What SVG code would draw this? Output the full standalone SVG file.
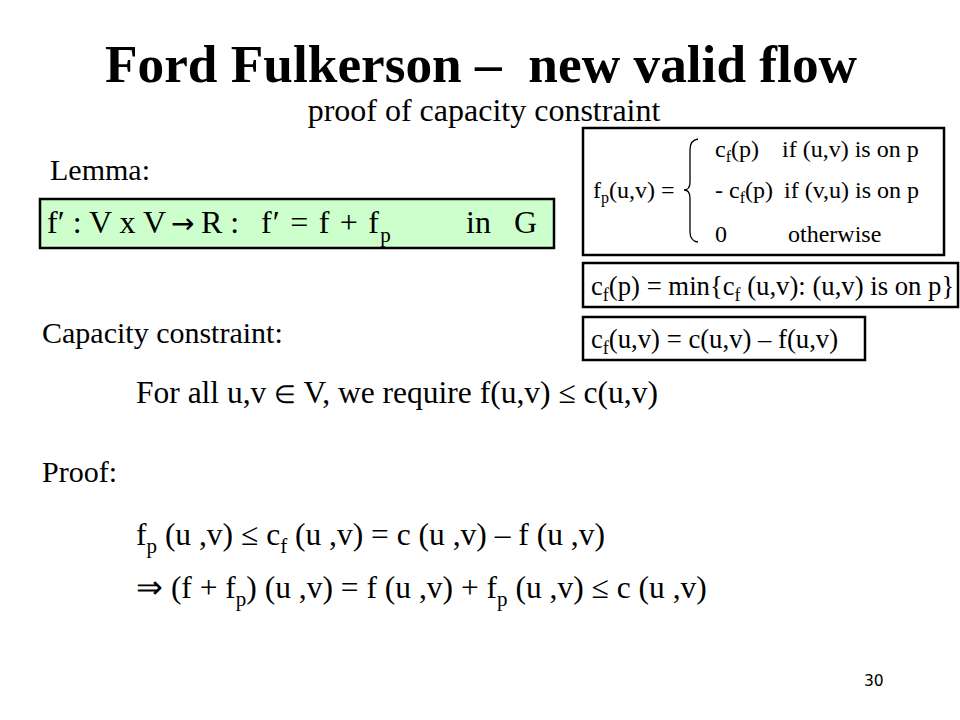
<svg xmlns="http://www.w3.org/2000/svg" width="960" height="720" viewBox="0 0 960 720">
<style>
text{font-family:"Liberation Serif","Times New Roman",serif;fill:#000}
.title{font-size:53.3px;font-weight:bold}
.sub{font-size:32px}
.lbl{font-size:30px}
.eq{font-size:31.5px}
.gr{font-size:32px}
.box{fill:#fff;stroke:#000;stroke-width:2.5}
.green{fill:#ccffcc;stroke:#000;stroke-width:2.5}
.s1{font-size:24px}
.s2{font-size:26.7px}
.num{font-family:"DejaVu Sans",Verdana,sans-serif;font-size:15.5px}
</style>
<rect width="960" height="720" fill="#fff"/>
<g id="title">
<text class="title" x="481" y="82" text-anchor="middle" xml:space="preserve">Ford Fulkerson –  new valid flow</text>
<text class="sub" x="484" y="121" text-anchor="middle">proof of capacity constraint</text>
</g>
<g id="lemma">
<text class="lbl" x="50" y="180">Lemma:</text>
<rect class="green" x="40" y="199" width="514" height="49"/>
<text class="gr" y="233"><tspan x="47">f′ : V x V</tspan><tspan x="171" font-family="DejaVu Sans, sans-serif" font-size="28">→</tspan><tspan x="201">R :</tspan><tspan x="261" textLength="118">f′ = f + f</tspan><tspan font-size="21" dy="9">p</tspan><tspan x="466" dy="-9">in</tspan><tspan x="514">G</tspan></text>
</g>
<g id="fp-def">
<rect class="box" x="583" y="128" width="361" height="127"/>
<text class="s1" x="593" y="198">f<tspan font-size="16" dy="5">p</tspan><tspan dy="-5">(u,v) =</tspan></text>
<path d="M698,139 Q690,140 690,150 L690,182 Q690,190 684,190 Q690,190 690,198 L690,232 Q690,241 698,242" fill="none" stroke="#000" stroke-width="1.3"/>
<text class="s1" x="715" y="157">c<tspan font-size="16" dy="5">f</tspan><tspan dy="-5">(p)</tspan></text>
<text class="s1" x="782" y="157">if (u,v) is on p</text>
<text class="s1" x="715" y="198">- c<tspan font-size="16" dy="5">f</tspan><tspan dy="-5">(p)</tspan></text>
<text class="s1" x="784" y="198">if (v,u) is on p</text>
<text class="s1" x="715" y="242">0</text>
<text class="s1" x="788" y="242">otherwise</text>
</g>
<g id="cf-path">
<rect class="box" x="583" y="263" width="375" height="44"/>
<text class="s2" x="591" y="295">c<tspan font-size="18" dy="6">f</tspan><tspan dy="-6">(p) = min{c</tspan><tspan font-size="18" dy="6">f</tspan><tspan dy="-6"> (u,v): (u,v) is on p}</tspan></text>
</g>
<g id="cf-edge">
<rect class="box" x="583" y="317" width="282" height="43"/>
<text class="s2" x="591" y="348">c<tspan font-size="18" dy="6">f</tspan><tspan dy="-6">(u,v) = c(u,v) – f(u,v)</tspan></text>
</g>
<g id="capacity">
<text class="lbl" x="42" y="343">Capacity constraint:</text>
<text class="eq" x="136" y="403">For all u,v <tspan font-size="25">∈</tspan> V, we require f(u,v) ≤ c(u,v)</text>
</g>
<g id="proof">
<text class="lbl" x="42" y="482">Proof:</text>
<text class="eq" x="136" y="545">f<tspan font-size="21" dy="8">p</tspan><tspan dy="-8"> (u ,v) ≤ c</tspan><tspan font-size="21" dy="8">f</tspan><tspan dy="-8"> (u ,v) = c (u ,v) – f (u ,v)</tspan></text>
<text class="eq" x="136" y="598">⇒ (f + f<tspan font-size="21" dy="8">p</tspan><tspan dy="-8">) (u ,v) = f (u ,v) + f</tspan><tspan font-size="21" dy="8">p</tspan><tspan dy="-8"> (u ,v) ≤ c (u ,v)</tspan></text>
</g>
<text class="num" x="864" y="686">30</text>
</svg>
